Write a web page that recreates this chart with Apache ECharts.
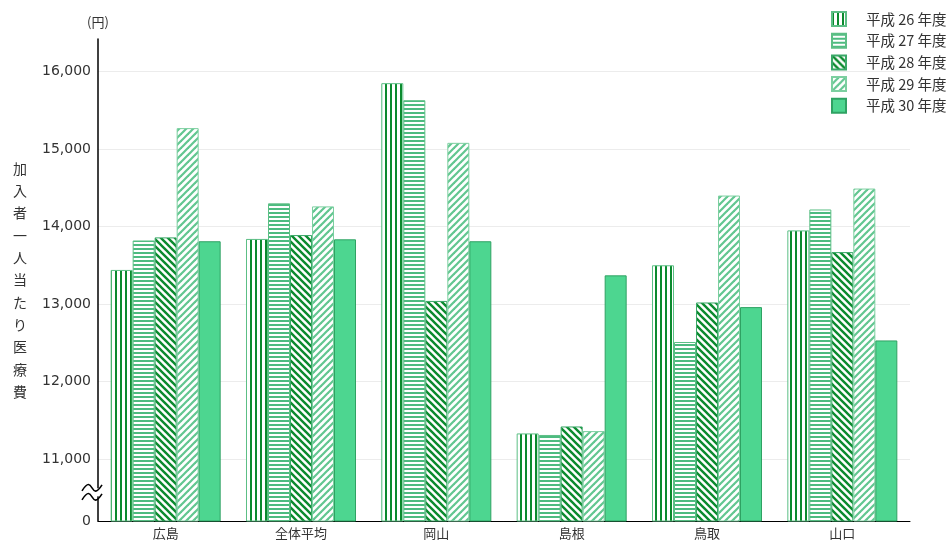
<!DOCTYPE html>
<html><head><meta charset="utf-8">
<script src="https://cdn.jsdelivr.net/npm/echarts@6/dist/echarts.min.js"></script>
<style>html,body{margin:0;padding:0;background:#fff}#c{width:951px;height:540px}</style>
</head><body><div id="c"></div>
<script>
const categories = ['広島', '全体平均', '岡山', '島根', '鳥取', '山口'];
const seriesNames = ['平成 26 年度', '平成 27 年度', '平成 28 年度', '平成 29 年度', '平成 30 年度'];
const h26 = [13440, 13840, 15850, 11330, 13500, 13950];
const h27 = [13820, 14300, 15630, 11310, 12510, 14220];
const h28 = [13860, 13890, 13040, 11420, 13020, 13670];
const h29 = [15270, 14260, 15080, 11360, 14400, 14490];
const h30 = [13810, 13835, 13810, 13370, 12960, 12530];
const yTickValues = [10200, 11000, 12000, 13000, 14000, 15000, 16000];

function pat(w, h, draw) {
  const c = document.createElement('canvas');
  c.width = w; c.height = h;
  const ctx = c.getContext('2d');
  ctx.fillStyle = '#fff'; ctx.fillRect(0, 0, w, h);
  draw(ctx, w, h);
  return { image: c, repeat: 'repeat' };
}
function diag(color, lw, s, dir) {
  return pat(s, s, (ctx) => {
    ctx.strokeStyle = color; ctx.lineWidth = lw; ctx.lineCap = 'square';
    for (let k = -1; k <= 1; k++) {
      ctx.beginPath();
      if (dir > 0) { ctx.moveTo(k * s, s); ctx.lineTo(k * s + s, 0); }
      else { ctx.moveTo(k * s, 0); ctx.lineTo(k * s + s, s); }
      ctx.stroke();
    }
  });
}
const fills = [
  pat(5, 5, (ctx) => { ctx.fillStyle = '#0b8a2e'; ctx.fillRect(0, 0, 2, 5); }),
  pat(4, 4, (ctx) => { ctx.fillStyle = '#4dbb80'; ctx.fillRect(0, 0, 4, 2); }),
  diag('#0b8a2e', 2.4, 7, -1),
  diag('#62c690', 2.2, 7, 1),
  '#4dd690'
];
const borders = ['#5cbf85', '#5cbf85', '#3aa868', '#7ccfa0', '#2fa263'];
const dataSets = [h26, h27, h28, h29, h30];

const chart = echarts.init(document.getElementById('c'));
const font = '"Noto Sans CJK JP", "Noto Sans", sans-serif';
chart.setOption({
  animation: false,
  textStyle: { fontFamily: font },
  title: { text: '(円)', left: 82, top: 11, textStyle: { fontSize: 13, fontWeight: 'normal', color: '#333', fontFamily: font } },
  legend: {
    orient: 'vertical', left: 826, top: 6, itemWidth: 14, itemHeight: 14, itemGap: 5.7,
    icon: 'rect',
    data: seriesNames,
    textStyle: { fontSize: 14.5, lineHeight: 16, color: '#333', padding: [0, 0, 0, 15], fontFamily: font }
  },
  grid: { left: 98, right: 41, top: 39, bottom: 19, containLabel: false },
  xAxis: {
    type: 'category', data: categories,
    axisLine: { lineStyle: { color: '#000', width: 1 } },
    axisTick: { show: false },
    axisLabel: { color: '#333', fontSize: 13, margin: 6, fontFamily: font }
  },
  yAxis: {
    type: 'value', min: 10200, max: 16420,
    name: '加入者一人当たり医療費'.split('').join('\n'),
    nameLocation: 'middle', nameRotate: 0, nameGap: 71,
    nameTextStyle: { fontSize: 14, lineHeight: 22.3, color: '#333', fontFamily: font },
    axisLine: { show: true, lineStyle: { color: '#000', width: 1.5 } },
    axisTick: { show: false, customValues: yTickValues },
    splitLine: { show: true, lineStyle: { color: '#ececec' } },
    axisLabel: {
      customValues: yTickValues, color: '#333', fontSize: 14, margin: 7, fontFamily: 'DejaVu Sans',
      formatter: (v) => v === 10200 ? '0' : v.toLocaleString('en-US')
    }
  },
  series: dataSets.map((d, i) => ({
    name: seriesNames[i], type: 'bar', data: d,
    barWidth: 22, barGap: '0%',
    itemStyle: { color: fills[i], borderColor: borders[i], borderWidth: 1 }
  }))
});

// axis break mark
const yb = chart.convertToPixel({ yAxisIndex: 0 }, 10570);
const xa = 98;
function wave(dy) {
  return {
    type: 'bezierCurve', x: xa, y: yb + dy,
    shape: { x1: -16, y1: 3, x2: 4, y2: -3, cpx1: -4, cpy1: -16, cpx2: -8, cpy2: 16 },
    style: { fill: null, stroke: '#000', lineWidth: 1.6 }, z: 101
  };
}
chart.setOption({
  graphic: [
    { type: 'rect', x: xa - 3, y: yb - 4, shape: { width: 6, height: 8 }, style: { fill: '#fff' }, z: 100 },
    wave(-4.5), wave(4.5)
  ]
});
</script></body></html>
